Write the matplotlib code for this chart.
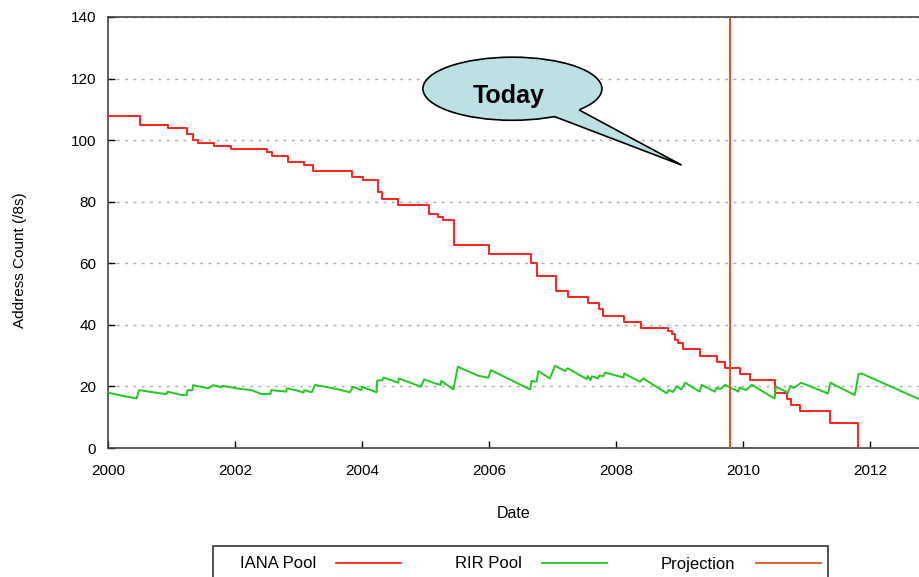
import matplotlib
matplotlib.use('Agg')
import matplotlib.pyplot as plt
from matplotlib.patches import Ellipse, Polygon, Rectangle
from matplotlib.lines import Line2D

plt.rcParams['font.family'] = ['Liberation Sans', 'DejaVu Sans']

# IANA pool (step levels, year where each level starts)
iana_years = [2000.00, 2000.50, 2000.94, 2001.25, 2001.34, 2001.41, 2001.67, 2001.93,
              2002.50, 2002.58, 2002.83, 2003.09, 2003.23, 2003.85, 2004.02, 2004.26,
              2004.32, 2004.57, 2005.05, 2005.20, 2005.28, 2005.45, 2006.00, 2006.67,
              2006.75, 2007.05, 2007.25, 2007.56, 2007.74, 2007.80, 2008.12, 2008.40,
              2008.82, 2008.88, 2008.93, 2008.98, 2009.06, 2009.32, 2009.59, 2009.72,
              2009.95, 2010.12, 2010.50, 2010.69, 2010.76, 2010.90, 2011.37, 2011.82]
iana_count = [108, 105, 104, 102, 100, 99, 98, 97,
              96, 95, 93, 92, 90, 88, 87, 83,
              81, 79, 76, 75, 74, 66, 63, 60,
              56, 51, 49, 47, 45, 43, 41, 39,
              38, 37, 35, 34, 32, 30, 28, 26,
              24, 22, 18, 16, 14, 12, 8, 0]

# RIR pool
rir_years = [2000.00, 2000.24, 2000.45, 2000.49, 2000.74, 2000.92, 2000.94, 2001.16,
             2001.24, 2001.25, 2001.33, 2001.34, 2001.58, 2001.66, 2001.79, 2001.80,
             2002.05, 2002.26, 2002.42, 2002.56, 2002.57, 2002.81, 2002.82, 2002.97,
             2003.08, 2003.09, 2003.21, 2003.26, 2003.55, 2003.81, 2003.86, 2003.99,
             2004.00, 2004.23, 2004.24, 2004.32, 2004.34, 2004.57, 2004.58, 2004.93,
             2004.98, 2005.15, 2005.24, 2005.25, 2005.44, 2005.51, 2005.83, 2005.99,
             2006.03, 2006.65, 2006.67, 2006.75, 2006.78, 2006.96, 2007.04, 2007.20,
             2007.24, 2007.54, 2007.56, 2007.60, 2007.62, 2007.72, 2007.74, 2007.80,
             2007.83, 2008.12, 2008.13, 2008.38, 2008.43, 2008.80, 2008.83, 2008.90,
             2008.96, 2009.03, 2009.09, 2009.32, 2009.35, 2009.56, 2009.58, 2009.65,
             2009.72, 2009.93, 2009.95, 2010.05, 2010.14, 2010.43, 2010.50, 2010.52,
             2010.71, 2010.75, 2010.80, 2010.85, 2010.92, 2011.34, 2011.38, 2011.76,
             2011.78, 2011.82, 2011.87, 2012.85]
rir_count = [18.0, 16.9, 16.1, 18.8, 18.0, 17.5, 18.3, 17.2,
             17.2, 18.8, 18.8, 20.4, 19.4, 20.4, 19.7, 20.2,
             19.3, 18.8, 17.5, 17.6, 18.8, 18.3, 19.4, 18.7,
             18.0, 18.8, 18.1, 20.5, 19.4, 18.1, 19.9, 18.8,
             19.9, 18.1, 21.9, 22.0, 22.9, 21.2, 22.6, 19.9,
             22.3, 21.0, 20.5, 21.8, 19.0, 26.4, 23.5, 22.8,
             25.3, 19.0, 21.8, 21.5, 25.0, 22.6, 26.7, 25.0,
             25.9, 22.4, 23.4, 22.0, 23.3, 22.6, 23.6, 23.3,
             24.5, 22.9, 24.2, 21.5, 22.6, 17.8, 18.8, 18.2,
             20.1, 19.0, 21.2, 18.3, 20.5, 18.3, 19.5, 19.2,
             20.5, 18.3, 19.7, 18.8, 20.5, 16.9, 16.1, 19.9,
             18.0, 20.2, 19.5, 20.2, 21.2, 17.7, 21.2, 17.2,
             19.0, 24.0, 24.2, 15.2]

today = 2009.80

red = '#ff2020'
green = '#22c822'
orange = '#d8561c'
bubble = '#bbe1e4'

fig = plt.figure(figsize=(9.2, 5.77), dpi=100)
ax = fig.add_axes([108/920, 1-448/577, 1-108/920, (448-17)/577])

ax.step(iana_years, iana_count, where='post', color=red, lw=1.4, zorder=3)
ax.plot(rir_years, rir_count, color=green, lw=1.4, zorder=3)
ax.axvline(today, color=orange, lw=1.4, zorder=4)

ax.set_xlim(2000, 2012.79)
ax.set_ylim(0, 140)
ax.set_xticks([2000, 2002, 2004, 2006, 2008, 2010, 2012])
ax.set_yticks(range(0, 141, 20))
ax.yaxis.grid(True, linestyle=(0, (2, 4)), color='#aaaaaa', lw=1)
ax.set_axisbelow(True)
ax.tick_params(direction='in', length=5, width=1, labelsize=11, colors='black')
ax.tick_params(axis='y', pad=8.5)
ax.tick_params(axis='x', pad=11.5)
ax.spines['right'].set_visible(False)
for s in ['left', 'top', 'bottom']:
    ax.spines[s].set_color('#444444')
    ax.spines[s].set_linewidth(1.2)

ax.set_xlabel('Date', fontsize=11.5, labelpad=20)
ax.set_ylabel('Address Count (/8s)', fontsize=11)
ax.yaxis.set_label_coords(-0.100, 0.436)

# "Today" callout
ell = Ellipse((2006.37, 116.7), 2.82, 20.5, facecolor=bubble, edgecolor='black',
              lw=1.2, zorder=6, clip_on=False)
ax.add_patch(ell)
tail = Polygon([(2006.96, 110.4), (2007.04, 107.6), (2009.035, 91.9), (2007.43, 109.7),
                (2007.35, 113.0)], closed=True, facecolor=bubble, edgecolor='none',
               zorder=7, clip_on=False)
ax.add_patch(tail)
ax.plot([2007.04, 2009.035, 2007.43], [107.6, 91.9, 109.7], color='black', lw=1.2,
        zorder=8, clip_on=False, solid_joinstyle='miter')
ax.text(2006.31, 112.0, 'Today', fontsize=18, fontweight='bold', ha='center',
        va='baseline', zorder=9)

# legend with a frame running off the bottom of the image
handles = [Line2D([], [], color=red, lw=1.3),
           Line2D([], [], color=green, lw=1.3),
           Line2D([], [], color=orange, lw=1.3)]
leg = fig.legend(handles, ['IANA Pool', 'RIR Pool', 'Projection'], ncol=3,
                 loc='center left', bbox_to_anchor=(240/920, 1-564/577),
                 markerfirst=False, frameon=False, fontsize=12,
                 handlelength=3.9, columnspacing=3.24, handletextpad=1.2,
                 borderpad=0, borderaxespad=0)
fig.patches.append(Rectangle((213/920, -0.05), 615/920, 0.05+1-546/577,
                             transform=fig.transFigure, fill=False,
                             edgecolor='#333333', lw=1.2))

plt.savefig('out.png', dpi=100)
